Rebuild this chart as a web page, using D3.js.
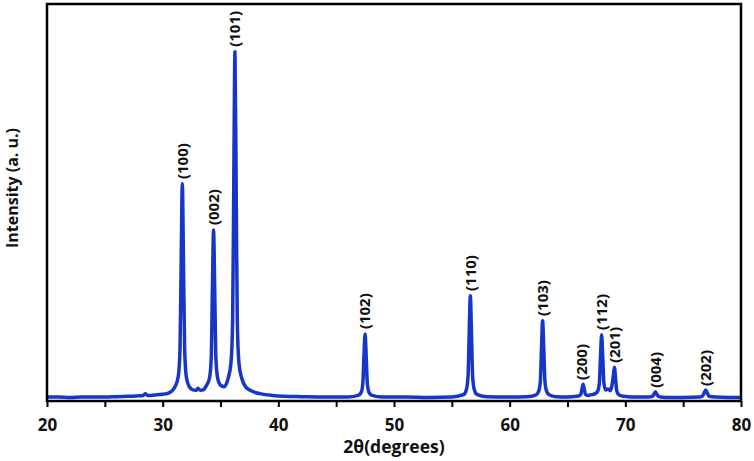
<!DOCTYPE html>
<html><head><meta charset="utf-8">
<script src="https://cdn.jsdelivr.net/npm/d3@7"></script>
<style>
body{margin:0;background:#fff}
svg{display:block}
text{font-family:"Open Sans",sans-serif;font-weight:bold;fill:#111}
</style>
</head><body>
<svg id="chart" width="754" height="461"></svg>
<script>
// 2θ (degrees) sample positions
const twoTheta = [
  20,21,22,23,24,25,26,27,28,28.3,28.5,28.7,29,29.5,30,30.5,
  31.1,31.35,31.5,31.6,31.7,31.8,31.9,32.05,32.3,32.6,32.9,33.05,33.25,33.5,33.8,
  34.05,34.2,34.3,34.4,34.5,34.6,34.75,35.0,35.3,
  35.65,35.9,36.05,36.15,36.25,36.35,36.45,36.6,36.85,37.2,37.7,38.5,39.5,40.5,42,44,46,
  46.9,47.15,47.3,47.4,47.5,47.6,47.7,47.85,48.1,49,51,53,55,
  56.0,56.25,56.4,56.5,56.6,56.7,56.8,56.95,57.2,58,60,61.5,
  62.25,62.5,62.65,62.75,62.85,62.95,63.05,63.2,63.45,64,65,65.8,
  66.0,66.15,66.25,66.35,66.45,66.55,66.75,67.1,
  67.35,67.6,67.75,67.85,67.95,68.05,68.15,68.3,68.5,
  68.7,68.85,68.95,69.05,69.15,69.25,69.4,69.65,70.2,71,72,
  72.3,72.45,72.6,72.75,72.9,73.5,75,76.4,
  76.65,76.8,76.95,77.1,77.25,77.8,79,80
];
// intensity (a. u.) at those positions
const intensity = [
  10,10,9,10,10,10,11,12,13,14,18,14,14,16,17,20,
  38,62,130,350,547,350,130,60,36,28,27,32,27,28,40,
  58,110,280,431,280,110,58,40,36,
  56,94,204,560,880,560,204,94,56,35,25,18,14,12,11,10,10,
  14,21,42,110,169,110,42,21,14,10,10,9,10,
  16,28,61,169,265,169,61,28,16,11,10,11,
  15,24,49,130,202,130,49,24,15,11,10,12,
  13,17,30,42,30,17,14,16,
  18,24,44,109,167,109,44,28,30,
  26,40,60,85,60,27,17,13,11,10,10,
  11,16,23,16,11,9,9,10,
  12,19,28,19,12,10,9,9
];
// reflections (Miller indices) with their positions and peak intensities
const peakLabels = ["(100)","(002)","(101)","(102)","(110)","(103)","(200)","(112)","(201)","(004)","(202)"];
const peakPos    = [31.7,34.4,36.25,47.5,56.6,62.85,66.2,67.95,69.1,72.6,76.95];
const peakTop    = [549,433,882,171,267,204,43,169,86,23,28];
// axis ticks
const xTickValues = [20,25,30,35,40,45,50,55,60,65,70,75,80];
const xTickLabels = ["20","","30","","40","","50","","60","","70","","80"];
const xTitle = "2θ(degrees)";
const yTitle = "Intensity (a. u.)";

const svg = d3.select("#chart");
const L = 47, R = 741, T = 4, B = 401;
const x = d3.scaleLinear().domain([20, 80]).range([L, R]);
const y = d3.scaleLinear().domain([0, 1000]).range([B, T]);

svg.append("clipPath").attr("id","clip")
  .append("rect").attr("x",L).attr("y",T).attr("width",R-L).attr("height",B-T);

const pts = twoTheta.map((t,i)=>[t,intensity[i]]);
const line = d3.line().x(d=>x(d[0])).y(d=>y(d[1])).curve(d3.curveMonotoneX);
svg.append("path").datum(pts)
  .attr("clip-path","url(#clip)")
  .attr("d", line)
  .attr("fill","none")
  .attr("stroke","#1636c8")
  .attr("stroke-width",3.5)
  .attr("stroke-linejoin","round");

// peak labels
svg.append("g").selectAll("text").data(peakLabels).join("text")
  .attr("transform",(d,i)=>`translate(${x(peakPos[i])},${y(peakTop[i])-4}) rotate(-90)`)
  .attr("dy","0.36em")
  .attr("text-anchor","start")
  .style("font-size","15px")
  .text(d=>d);

// x axis
const ax = svg.append("g").attr("transform",`translate(0,${B})`)
  .call(d3.axisBottom(x).tickValues(xTickValues).tickSize(6).tickFormat((d,i)=>xTickLabels[i]));
ax.select(".domain").remove();
ax.selectAll(".tick line").attr("stroke","#000").attr("stroke-width",2);
ax.selectAll(".tick text").attr("y",30).attr("dy",null)
  .style("font-size","17px").style("font-family","'Open Sans',sans-serif").style("font-weight","bold").attr("fill","#111");

// frame
svg.append("rect").attr("x",L).attr("y",T).attr("width",R-L).attr("height",B-T)
  .attr("fill","none").attr("stroke","#000").attr("stroke-width",2.5);

// titles
svg.append("text").attr("x",(L+R)/2).attr("y",453).attr("text-anchor","middle")
  .style("font-size","17.5px").text(xTitle);
svg.append("text").attr("transform","translate(18,188) rotate(-90)").attr("text-anchor","middle")
  .style("font-size","16px").text(yTitle);
</script>
</body></html>
